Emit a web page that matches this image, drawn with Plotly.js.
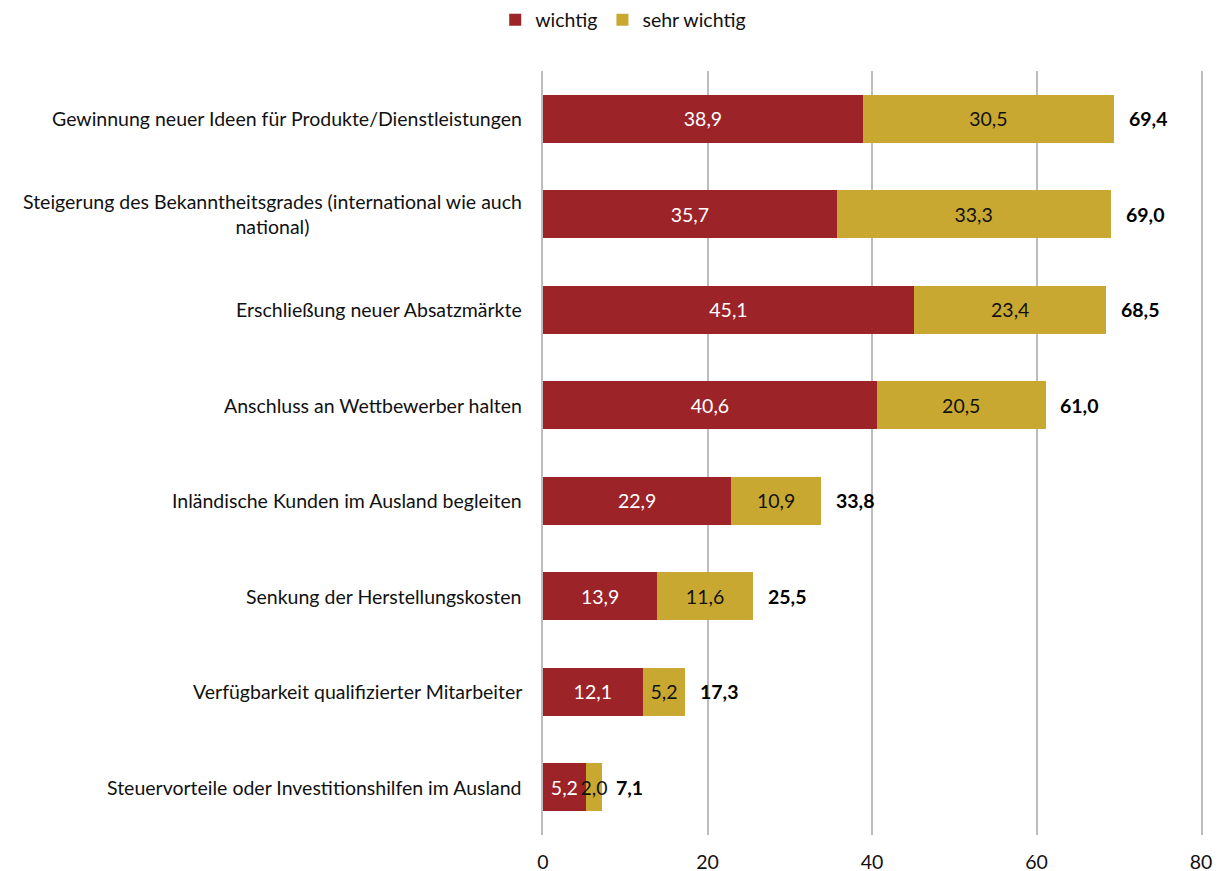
<!DOCTYPE html>
<html>
<head>
<meta charset="utf-8">
<script src="https://cdn.plot.ly/plotly-3.0.1.min.js"></script>
<style>
  html, body { margin: 0; padding: 0; background: #fff; }
  #chart { width: 1222px; height: 871px; }
</style>
</head>
<body>
<div id="chart"></div>
<script>
var categories = [
  'Gewinnung neuer Ideen für Produkte/Dienstleistungen',
  'Steigerung des Bekanntheitsgrades (international wie auch<br>national)',
  'Erschließung neuer Absatzmärkte',
  'Anschluss an Wettbewerber halten',
  'Inländische Kunden im Ausland begleiten',
  'Senkung der Herstellungskosten',
  'Verfügbarkeit qualifizierter Mitarbeiter',
  'Steuervorteile oder Investitionshilfen im Ausland'
];
var wichtig = [38.9, 35.7, 45.1, 40.6, 22.9, 13.9, 12.1, 5.2];
var sehrWichtig = [30.5, 33.3, 23.4, 20.5, 10.9, 11.6, 5.2, 2.0];
var totals = [69.4, 69.0, 68.5, 61.0, 33.8, 25.5, 17.3, 7.1];
var xTicks = [0, 20, 40, 60, 80];

var FONT = 'Lato, "Liberation Sans", sans-serif';
var FS = 19.5;
var RED = '#9C2328';
var GOLD = '#C9A831';
var GRID = '#BDBDBD';

function fmt(v) {
  return v.toFixed(1).replace('.', ',');
}

var trace1 = {
  type: 'bar',
  orientation: 'h',
  name: 'wichtig',
  y: categories,
  x: wichtig,
  text: wichtig.map(fmt),
  textposition: 'inside',
  insidetextanchor: 'middle',
  textangle: 0,
  constraintext: 'none',
  textfont: { family: FONT, size: FS, color: '#ffffff' },
  marker: { color: RED },
  hoverinfo: 'skip'
};

var trace2 = {
  type: 'bar',
  orientation: 'h',
  name: 'sehr wichtig',
  y: categories,
  x: sehrWichtig,
  text: sehrWichtig.map(fmt),
  textposition: 'inside',
  insidetextanchor: 'middle',
  textangle: 0,
  constraintext: 'none',
  textfont: { family: FONT, size: FS, color: '#111111' },
  marker: { color: GOLD },
  hoverinfo: 'skip'
};

var annotations = [];
// category labels: block right-aligned, lines centred
categories.forEach(function (c) {
  annotations.push({
    xref: 'paper', yref: 'y',
    x: 0, y: c,
    xanchor: 'right', yanchor: 'middle',
    xshift: -19,
    align: 'center',
    showarrow: false,
    text: c,
    font: { family: FONT, size: FS, color: '#111111' }
  });
});
// totals to the right of each bar
categories.forEach(function (c, i) {
  annotations.push({
    xref: 'x', yref: 'y',
    x: totals[i], y: c,
    xanchor: 'left', yanchor: 'middle',
    xshift: 13,
    showarrow: false,
    text: '<b>' + fmt(totals[i]) + '</b>',
    font: { family: FONT, size: FS, color: '#000000' }
  });
});

var layout = {
  width: 1222,
  height: 871,
  margin: { l: 543, r: 21, t: 71, b: 36 },
  paper_bgcolor: '#ffffff',
  plot_bgcolor: '#ffffff',
  barmode: 'stack',
  bargap: 0.5,
  showlegend: true,
  legend: {
    orientation: 'h',
    xref: 'container', yref: 'container',
    x: 0.51, y: 0.977,
    xanchor: 'center', yanchor: 'middle',
    font: { family: FONT, size: FS, color: '#111111' },
    itemwidth: 30,
    traceorder: 'normal'
  },
  xaxis: {
    range: [0, 80],
    tickvals: xTicks,
    ticktext: xTicks.map(String),
    showgrid: true,
    gridcolor: GRID,
    gridwidth: 2,
    zeroline: false,
    showline: false,
    ticks: '',
    ticklabelstandoff: 13,
    tickfont: { family: FONT, size: FS, color: '#111111' },
    fixedrange: true
  },
  yaxis: {
    autorange: 'reversed',
    showticklabels: false,
    showgrid: false,
    zeroline: false,
    showline: true,
    mirror: true,
    linecolor: GRID,
    linewidth: 2,
    ticks: '',
    fixedrange: true
  },
  annotations: annotations,
  font: { family: FONT, size: FS, color: '#111111' }
};

Plotly.newPlot('chart', [trace1, trace2], layout, { displayModeBar: false, staticPlot: true });
</script>
</body>
</html>
